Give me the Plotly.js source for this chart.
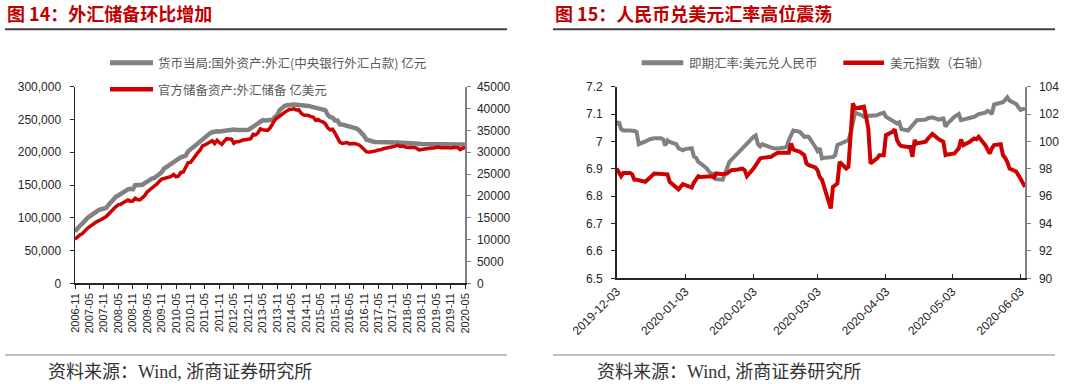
<!DOCTYPE html>
<html>
<head>
<meta charset="utf-8">
<script src="https://cdn.plot.ly/plotly-3.0.1.min.js"></script>
<style>
html,body{margin:0;padding:0;background:#fff;}
#chart{width:1080px;height:384px;}
</style>
</head>
<body>
<div id="chart"></div>
<script>
// ---------------- Data: chart 14 (monthly, 2006-11 .. 2020-05) ----------------
const startYear = 2006, startMonth = 11, monthCount = 163;
// 货币当局:国外资产:外汇(中央银行外汇占款) 亿元
const fxAssets = [
  79000, 84361,
  87800, 91000, 95500, 99000, 101700, 104500, 108000, 110000, 112000, 113000, 114000, 115169,
  120000, 124500, 127000, 132000, 134000, 136500, 139500, 142000, 143500, 144200, 143600, 149624,
  149400, 149600, 150300, 152700, 155500, 156800, 159700, 160600, 163200, 165600, 169600, 175155,
  178000, 180700, 182800, 185700, 188000, 189800, 192200, 193100, 194900, 201300, 204500, 206767,
  211600, 214200, 217000, 221000, 223700, 226000, 228500, 230600, 232100, 232000, 231600, 232389,
  233000, 233600, 234300, 234700, 234700, 234000, 233600, 233600, 233600, 233800, 234100, 236670,
  240000, 241800, 245000, 248000, 248900, 248500, 248600, 248500, 249500, 253500, 256700, 264270,
  268600, 270700, 271800, 272600, 272998, 272700, 272500, 272300, 272000, 271700, 271500, 270681,
  269600, 268800, 267700, 267400, 266800, 266300, 264300, 256900, 253600, 253000, 248500, 248538,
  242500, 242200, 241200, 240400, 239800, 239000, 237900, 236200, 233200, 230000, 225300, 219425,
  217900, 216700, 216000, 215600, 215300, 215200, 215100, 215000, 214700, 214900, 214900, 214788,
  214900, 214800, 215000, 215000, 215000, 215000, 214900, 214900, 213900, 213000, 212500, 212557,
  212500, 212400, 212300, 212200, 212000, 212000, 212000, 212000, 212000, 211800, 211700, 212317,
  212000, 211900, 211900, 211700, 211400
];
// 官方储备资产:外汇储备 亿美元
const fxReserves = [
  10096, 10663,
  11046, 11350, 12020, 12500, 12926, 13326, 13852, 14086, 14336, 14545, 14970, 15282,
  15898, 16471, 16822, 17566, 17969, 18088, 18452, 18841, 19056, 18797, 18847, 19460,
  19135, 19121, 19537, 20089, 20894, 21316, 21746, 22110, 22726, 23283, 23876, 23992,
  24153, 24250, 24471, 24905, 24395, 24543, 25380, 25483, 26483, 27609, 27679, 28473,
  29316, 29914, 30447, 31458, 31662, 31975, 32452, 32625, 32017, 32738, 32209, 31811,
  32536, 33100, 33050, 32989, 32061, 32400, 32400, 32730, 32850, 32870, 32970, 33116,
  34100, 33958, 34426, 35345, 35148, 34967, 35000, 35530, 36627, 37366, 37900, 38213,
  38666, 39137, 39481, 39788, 39839, 39932, 39660, 39688, 38877, 38529, 38474, 38430,
  38134, 38015, 37300, 37481, 37111, 36938, 36513, 35573, 35141, 35255, 34383, 33304,
  32309, 32023, 32126, 32197, 31917, 32052, 32011, 31852, 31664, 31207, 30516, 30105,
  29982, 30051, 30091, 30295, 30536, 30568, 30807, 30915, 31085, 31093, 31193, 31399,
  31615, 31345, 31428, 31248, 31106, 31121, 31179, 31097, 30870, 30531, 30617, 30727,
  30879, 30902, 30988, 30950, 31010, 31192, 31037, 31072, 30924, 31052, 30956, 31079,
  31155, 31067, 30606, 30915, 31017
];
const leftYTicks = [0, 50000, 100000, 150000, 200000, 250000, 300000];
const rightYTicks = [0, 5000, 10000, 15000, 20000, 25000, 30000, 35000, 40000, 45000];

// ---------------- Data: chart 15 (daily) ----------------
const cnyDates = ['2019-12-03','2019-12-04','2019-12-05','2019-12-06','2019-12-09','2019-12-10','2019-12-11','2019-12-12','2019-12-13','2019-12-16','2019-12-17','2019-12-18','2019-12-19','2019-12-20','2019-12-23','2019-12-24','2019-12-25','2019-12-26','2019-12-27','2019-12-30','2019-12-31',
'2020-01-02','2020-01-03','2020-01-06','2020-01-07','2020-01-08','2020-01-09','2020-01-10','2020-01-13','2020-01-14','2020-01-15','2020-01-16','2020-01-17','2020-01-20','2020-01-21','2020-01-22','2020-01-23',
'2020-02-03','2020-02-04','2020-02-05','2020-02-06','2020-02-07','2020-02-10','2020-02-11','2020-02-12','2020-02-13','2020-02-14','2020-02-17','2020-02-18','2020-02-19','2020-02-20','2020-02-21','2020-02-24','2020-02-25','2020-02-26','2020-02-27','2020-02-28',
'2020-03-02','2020-03-03','2020-03-04','2020-03-05','2020-03-06','2020-03-09','2020-03-10','2020-03-11','2020-03-12','2020-03-13','2020-03-16','2020-03-17','2020-03-18','2020-03-19','2020-03-20','2020-03-23','2020-03-24','2020-03-25','2020-03-26','2020-03-27','2020-03-30','2020-03-31',
'2020-04-01','2020-04-02','2020-04-03','2020-04-06','2020-04-07','2020-04-08','2020-04-09','2020-04-10','2020-04-13','2020-04-14','2020-04-15','2020-04-16','2020-04-17','2020-04-20','2020-04-21','2020-04-22','2020-04-23','2020-04-24','2020-04-27','2020-04-28','2020-04-29','2020-04-30',
'2020-05-01','2020-05-04','2020-05-05','2020-05-06','2020-05-07','2020-05-08','2020-05-11','2020-05-12','2020-05-13','2020-05-14','2020-05-15','2020-05-18','2020-05-19','2020-05-20','2020-05-21','2020-05-22','2020-05-25','2020-05-26','2020-05-27','2020-05-28','2020-05-29',
'2020-06-01','2020-06-02','2020-06-03','2020-06-04','2020-06-05'];
// 即期汇率:美元兑人民币
const usdcny = [7.060,7.072,7.045,7.040,7.040,7.040,7.038,7.035,6.990,7.000,7.005,7.008,7.010,7.012,7.012,7.008,6.985,7.004,6.998,6.990,6.975,
6.968,6.972,6.975,6.945,6.940,6.925,6.920,6.900,6.888,6.883,6.880,6.862,6.860,6.880,6.900,6.925,
7.017,7.022,6.990,6.982,6.990,6.980,6.978,6.975,6.974,6.974,6.978,6.980,7.005,7.020,7.040,7.035,7.025,7.017,7.018,7.017,
6.980,6.965,6.975,6.938,6.940,6.944,6.943,6.950,6.987,6.990,7.000,7.005,7.030,7.066,7.105,7.096,7.090,7.093,7.093,7.095,7.096,7.100,
7.103,7.105,7.090,7.078,7.072,7.066,7.070,7.045,7.040,7.050,7.056,7.068,7.078,7.079,7.080,7.085,7.087,7.088,7.080,7.082,7.084,7.054,
7.066,7.090,7.095,7.100,7.078,7.080,7.084,7.087,7.090,7.095,7.100,7.105,7.112,7.108,7.100,7.135,7.141,7.143,7.152,7.161,7.149,
7.137,7.125,7.115,7.118,7.120];
// 美元指数（右轴）
const dxyDates = ['2019-12-03','2019-12-04','2019-12-05','2019-12-06','2019-12-09','2019-12-10','2019-12-11','2019-12-12','2019-12-13','2019-12-16','2019-12-17','2019-12-18','2019-12-19','2019-12-20','2019-12-23','2019-12-24','2019-12-26','2019-12-27','2019-12-30','2019-12-31',
'2020-01-02','2020-01-03','2020-01-06','2020-01-07','2020-01-08','2020-01-09','2020-01-10','2020-01-13','2020-01-14','2020-01-15','2020-01-16','2020-01-17','2020-01-20','2020-01-21','2020-01-22','2020-01-23','2020-01-24','2020-01-27','2020-01-28','2020-01-29','2020-01-30','2020-01-31',
'2020-02-03','2020-02-04','2020-02-05','2020-02-06','2020-02-07','2020-02-10','2020-02-11','2020-02-12','2020-02-13','2020-02-14','2020-02-17','2020-02-18','2020-02-19','2020-02-20','2020-02-21','2020-02-24','2020-02-25','2020-02-26','2020-02-27','2020-02-28',
'2020-03-02','2020-03-03','2020-03-04','2020-03-05','2020-03-06','2020-03-09','2020-03-10','2020-03-11','2020-03-12','2020-03-13','2020-03-16','2020-03-17','2020-03-18','2020-03-19','2020-03-20','2020-03-23','2020-03-24','2020-03-25','2020-03-26','2020-03-27','2020-03-30','2020-03-31',
'2020-04-01','2020-04-02','2020-04-03','2020-04-06','2020-04-07','2020-04-08','2020-04-09','2020-04-10','2020-04-13','2020-04-14','2020-04-15','2020-04-16','2020-04-17','2020-04-20','2020-04-21','2020-04-22','2020-04-23','2020-04-24','2020-04-27','2020-04-28','2020-04-29','2020-04-30',
'2020-05-01','2020-05-04','2020-05-05','2020-05-06','2020-05-07','2020-05-08','2020-05-11','2020-05-12','2020-05-13','2020-05-14','2020-05-15','2020-05-18','2020-05-19','2020-05-20','2020-05-21','2020-05-22','2020-05-25','2020-05-26','2020-05-27','2020-05-28','2020-05-29',
'2020-06-01','2020-06-02','2020-06-03','2020-06-04','2020-06-05'];
const dxy = [98.02,97.70,97.46,97.70,97.70,97.60,97.20,97.20,97.17,97.05,97.20,97.40,97.50,97.66,97.66,97.66,97.60,97.05,96.68,96.50,
96.88,96.80,96.63,97.00,97.30,97.46,97.40,97.40,97.40,97.46,97.37,97.66,97.60,97.60,97.66,97.80,97.90,97.95,98.00,98.02,97.90,97.46,
98.02,98.30,98.50,98.76,98.80,98.88,98.88,99.00,99.10,99.17,99.17,99.17,99.17,99.85,99.41,99.24,99.10,99.00,98.39,98.27,
98.10,97.90,97.40,97.20,96.68,95.10,96.68,96.80,96.93,98.50,98.02,98.15,100.50,102.78,102.41,102.50,102.54,101.80,100.95,98.39,98.76,99.00,
99.00,99.00,100.46,100.70,100.88,100.10,99.80,99.66,99.60,99.60,98.88,100.10,99.85,99.90,99.98,100.20,100.40,100.54,100.15,100.05,99.98,99.00,
99.05,99.12,99.30,99.49,100.15,99.73,99.98,100.10,100.22,100.15,100.34,99.73,99.40,99.12,99.50,99.73,99.80,99.00,98.80,98.50,98.02,
97.80,97.54,97.20,96.90,96.68];
const cnyTicks = [6.5, 6.6, 6.7, 6.8, 6.9, 7.0, 7.1, 7.2];
const cnyTickText = ['6.5','6.6','6.7','6.8','6.9','7','7.1','7.2'];
const dateTicks = ['2019-12-03','2020-01-03','2020-02-03','2020-03-03','2020-04-03','2020-05-03','2020-06-03'];

// ---------------- Build month categories ----------------
const months = [];
for (let i = 0; i < monthCount; i++) {
  const m = startMonth - 1 + i;
  const y = startYear + Math.floor(m / 12);
  const mm = (m % 12) + 1;
  months.push(y + '-' + (mm < 10 ? '0' : '') + mm + '-01');
}
const monthTicks = months.filter((d, i) => i % 6 === 0);
const monthTickText = monthTicks.map(d => d.slice(0, 7));

// ---------------- Helpers (pixel -> paper) ----------------
const W = 1080, H = 384;
const px = x => x / W;
const py = y => 1 - y / H;

const GRAY = '#818181';
const RED = '#cf0000';
const AXIS = '#262626';
const TICKFONT = {family: 'Liberation Sans, Arial, sans-serif', size: 12, color: '#262626'};
const CJK = 'Noto Sans CJK SC, sans-serif';

const traces = [
  {x: months, y: fxAssets, xaxis: 'x', yaxis: 'y', type: 'scatter', mode: 'lines',
   line: {color: GRAY, width: 4.5}, name: '货币当局:国外资产:外汇(中央银行外汇占款) 亿元', hoverinfo: 'skip'},
  {x: months, y: fxReserves, xaxis: 'x', yaxis: 'y2', type: 'scatter', mode: 'lines',
   line: {color: RED, width: 3.5}, name: '官方储备资产:外汇储备 亿美元', hoverinfo: 'skip'},
  {x: cnyDates, y: usdcny, xaxis: 'x3', yaxis: 'y3', type: 'scatter', mode: 'lines',
   line: {color: GRAY, width: 4}, name: '即期汇率:美元兑人民币', hoverinfo: 'skip'},
  {x: dxyDates, y: dxy, xaxis: 'x3', yaxis: 'y4', type: 'scatter', mode: 'lines',
   line: {color: RED, width: 4}, name: '美元指数（右轴）', hoverinfo: 'skip'}
];

const leftDomainY = [py(283.3), py(86.7)];
const rightDomainY = [py(278.3), py(86.7)];

const layout = {
  width: W, height: H,
  margin: {l: 0, r: 0, t: 0, b: 0},
  paper_bgcolor: '#fff', plot_bgcolor: 'rgba(0,0,0,0)',
  showlegend: false,
  xaxis: {
    domain: [px(75), px(465)], anchor: 'y', type: 'date',
    range: [months[0], months[months.length - 1]],
    tickmode: 'array', tickvals: monthTicks, ticktext: monthTickText,
    tickangle: -90, tickfont: {family: TICKFONT.family, size: 11, color: TICKFONT.color},
    ticks: 'outside', ticklen: 4, tickcolor: AXIS, tickwidth: 1,
    showline: true, linecolor: AXIS, linewidth: 1.5,
    showgrid: false, zeroline: false, fixedrange: true
  },
  yaxis: {
    domain: leftDomainY, anchor: 'x', range: [0, 300000],
    tickmode: 'array', tickvals: leftYTicks, tickformat: ',d',
    tickfont: TICKFONT, ticks: 'outside', ticklen: 4, tickcolor: AXIS,
    showline: true, linecolor: AXIS, linewidth: 1.5,
    showgrid: false, zeroline: false, ticklabelstandoff: 6
  },
  yaxis2: {
    overlaying: 'y', anchor: 'x', side: 'right', range: [0, 45000],
    tickmode: 'array', tickvals: rightYTicks, tickformat: 'd',
    tickfont: TICKFONT, ticks: 'outside', ticklen: 4, tickcolor: '#808080',
    showline: true, linecolor: '#808080', linewidth: 1.5,
    showgrid: false, zeroline: false, ticklabelstandoff: 4
  },
  xaxis3: {
    domain: [px(616.7), px(1025)], anchor: 'y3', type: 'date',
    range: ['2019-12-03', '2020-06-05'],
    tickmode: 'array', tickvals: dateTicks, ticktext: dateTicks,
    tickangle: -45, tickfont: TICKFONT,
    ticks: 'inside', ticklen: 4, tickcolor: AXIS,
    showline: true, linecolor: AXIS, linewidth: 1.5,
    showgrid: false, zeroline: false
  },
  yaxis3: {
    domain: rightDomainY, anchor: 'x3', range: [6.5, 7.2],
    tickmode: 'array', tickvals: cnyTicks, ticktext: cnyTickText,
    tickfont: TICKFONT, ticks: 'outside', ticklen: 4, tickcolor: AXIS,
    showline: true, linecolor: AXIS, linewidth: 1.5,
    showgrid: false, zeroline: false, ticklabelstandoff: 6
  },
  yaxis4: {
    overlaying: 'y3', anchor: 'x3', side: 'right', range: [90, 104],
    dtick: 2, tick0: 90,
    tickfont: TICKFONT, ticks: 'outside', ticklen: 4, tickcolor: '#808080',
    showline: true, linecolor: '#808080', linewidth: 1.5,
    showgrid: false, zeroline: false, ticklabelstandoff: 6
  },
  shapes: [
    {type: 'line', xref: 'paper', yref: 'paper', x0: px(5), x1: px(507), y0: py(29.3), y1: py(29.3), line: {color: '#404040', width: 2}},
    {type: 'line', xref: 'paper', yref: 'paper', x0: px(553), x1: px(1055), y0: py(29.3), y1: py(29.3), line: {color: '#404040', width: 2}},
    {type: 'line', xref: 'paper', yref: 'paper', x0: px(5), x1: px(507), y0: py(355), y1: py(355), line: {color: '#808080', width: 1}},
    {type: 'line', xref: 'paper', yref: 'paper', x0: px(553), x1: px(1055), y0: py(355), y1: py(355), line: {color: '#808080', width: 1}},
    {type: 'line', xref: 'paper', yref: 'paper', x0: px(110), x1: px(153), y0: py(62.7), y1: py(62.7), line: {color: GRAY, width: 5}},
    {type: 'line', xref: 'paper', yref: 'paper', x0: px(110), x1: px(153), y0: py(89.3), y1: py(89.3), line: {color: RED, width: 4.5}},
    {type: 'line', xref: 'paper', yref: 'paper', x0: px(641.7), x1: px(683.3), y0: py(62.7), y1: py(62.7), line: {color: GRAY, width: 5}},
    {type: 'line', xref: 'paper', yref: 'paper', x0: px(843.3), x1: px(884), y0: py(62.7), y1: py(62.7), line: {color: RED, width: 4.5}}
  ],
  annotations: [
    {xref: 'paper', yref: 'paper', x: px(5), y: py(13), xanchor: 'left', yanchor: 'middle', showarrow: false,
     text: '图 14：外汇储备环比增加', font: {family: CJK, size: 18, color: '#c00000', weight: 'bold'}},
    {xref: 'paper', yref: 'paper', x: px(553), y: py(13), xanchor: 'left', yanchor: 'middle', showarrow: false,
     text: '图 15：人民币兑美元汇率高位震荡', font: {family: CJK, size: 18, color: '#c00000', weight: 'bold'}},
    {xref: 'paper', yref: 'paper', x: px(156), y: py(62.7), xanchor: 'left', yanchor: 'middle', showarrow: false,
     text: traces[0].name, font: {family: CJK, size: 12.5, color: '#595959'}},
    {xref: 'paper', yref: 'paper', x: px(156), y: py(89.3), xanchor: 'left', yanchor: 'middle', showarrow: false,
     text: traces[1].name, font: {family: CJK, size: 12.5, color: '#595959'}},
    {xref: 'paper', yref: 'paper', x: px(686.7), y: py(62.7), xanchor: 'left', yanchor: 'middle', showarrow: false,
     text: traces[2].name, font: {family: CJK, size: 12.5, color: '#595959'}},
    {xref: 'paper', yref: 'paper', x: px(888), y: py(62.7), xanchor: 'left', yanchor: 'middle', showarrow: false,
     text: traces[3].name, font: {family: CJK, size: 12.5, color: '#595959'}},
    {xref: 'paper', yref: 'paper', x: px(46), y: py(372), xanchor: 'left', yanchor: 'middle', showarrow: false,
     text: '资料来源：Wind, 浙商证券研究所', font: {family: 'Liberation Serif, ' + CJK, size: 18, color: '#333333'}},
    {xref: 'paper', yref: 'paper', x: px(595), y: py(372), xanchor: 'left', yanchor: 'middle', showarrow: false,
     text: '资料来源：Wind, 浙商证券研究所', font: {family: 'Liberation Serif, ' + CJK, size: 18, color: '#333333'}}
  ]
};

Plotly.newPlot('chart', traces, layout, {staticPlot: true, displayModeBar: false});
</script>
</body>
</html>
